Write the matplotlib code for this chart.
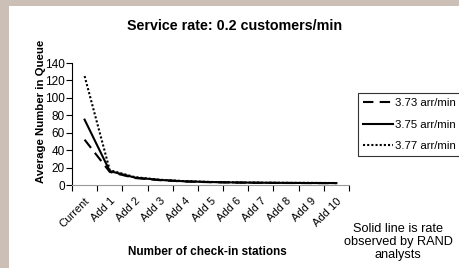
import matplotlib.pyplot as plt
from matplotlib.patches import Rectangle
import numpy as np

# categories along x
stations = ['Current', 'Add 1', 'Add 2', 'Add 3', 'Add 4', 'Add 5',
            'Add 6', 'Add 7', 'Add 8', 'Add 9', 'Add 10']

# average number in queue for each arrival rate
rate_373 = [52, 15, 8, 5.5, 4, 3.2, 2.8, 2.5, 2.3, 2.2, 2.1]
rate_375 = [75, 16, 8.5, 5.8, 4.2, 3.4, 2.9, 2.6, 2.4, 2.3, 2.2]
rate_377 = [125, 17, 9, 6, 4.4, 3.5, 3.0, 2.7, 2.5, 2.4, 2.3]

FONT = 'Liberation Sans'

fig = plt.figure(figsize=(4.59, 2.68), dpi=100, facecolor='#cbbfb6')
# white panel, beige strip on left and top
fig.patches.append(Rectangle((9/459, 0), 1, 1 - 6/268, transform=fig.transFigure,
                             facecolor='white', edgecolor='none', zorder=-10))

ax = fig.add_axes([72/459, 1 - 185/268, (349 - 72)/459, (185 - 63)/268])
ax.set_facecolor('none')

x = np.arange(len(stations))
ax.plot(x, rate_373, color='black', lw=1.5, dashes=(5, 3), label='3.73 arr/min')
ax.plot(x, rate_375, color='black', lw=1.5, label='3.75 arr/min')
ax.plot(x, rate_377, color='black', lw=1.5, ls=(0, (1, 1)), label='3.77 arr/min')

ax.set_xlim(-0.5, 10.5)
ax.set_ylim(0, 140)
ax.set_yticks(range(0, 141, 20))
# tick marks between categories, labels at category centres
ax.set_xticks(np.arange(-0.5, 11, 1))
ax.set_xticklabels([])
ax.set_xticks(x, minor=True)
ax.set_xticklabels(stations, minor=True, rotation=45, ha='right',
                   rotation_mode='anchor', fontsize=8, family=FONT)
ax.tick_params(axis='x', which='minor', length=0, pad=8)
ax.tick_params(axis='x', which='major', length=4, direction='out', color='black')
ax.tick_params(axis='y', length=4, labelsize=8.5, pad=1)
for lab in ax.get_yticklabels():
    lab.set_family(FONT)

ax.spines['top'].set_visible(False)
ax.spines['right'].set_visible(False)
ax.spines['bottom'].set_color('#999999')

ax.set_ylabel('Average Number in Queue', fontsize=8.2, fontweight='bold', family=FONT)
ax.yaxis.set_label_coords(-0.095, 0.6)
ax.set_xlabel('Number of check-in stations', fontsize=8.5, fontweight='bold', family=FONT)
ax.xaxis.set_label_coords(0.49, -0.5)

fig.text(235/459, 1 - 26/268, 'Service rate: 0.2 customers/min', ha='center',
         va='center', fontsize=10.3, fontweight='bold', family=FONT)

leg = ax.legend(loc='upper left', bbox_to_anchor=(358/459, 1 - 93/268),
                bbox_transform=fig.transFigure, frameon=True, fancybox=False,
                edgecolor='black', handlelength=2.6, handletextpad=0.2,
                borderpad=0.45, labelspacing=1.0, borderaxespad=0,
                prop={'family': FONT, 'size': 8.2})
leg.get_frame().set_linewidth(0.8)

fig.text(398/459, 1 - 242/268, 'Solid line is rate\nobserved by RAND\nanalysts',
         ha='center', va='center', fontsize=9.2, family=FONT, linespacing=1.1)

fig.savefig('out.png', dpi=100, facecolor=fig.get_facecolor())
